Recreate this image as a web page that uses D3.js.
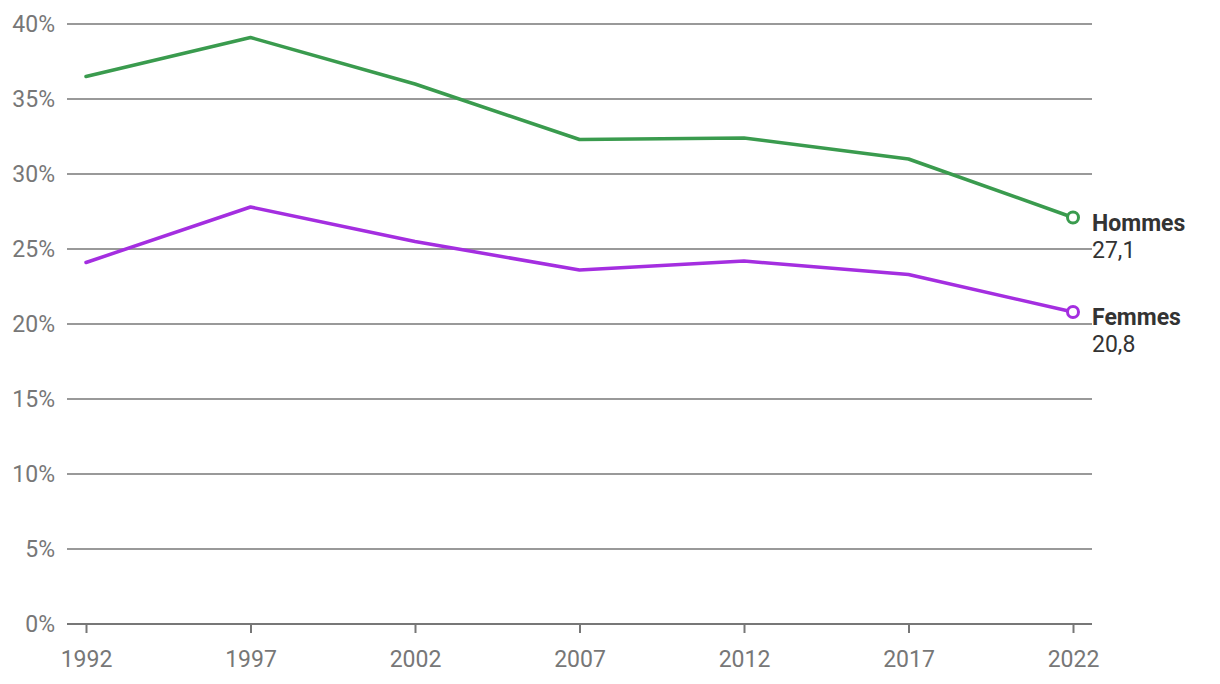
<!DOCTYPE html>
<html><head><meta charset="utf-8">
<script src="https://cdn.jsdelivr.net/npm/d3@7"></script>
<style>body{margin:0;background:#fff}svg{display:block;font-family:Roboto,sans-serif}</style>
</head><body><svg id="c" width="1220" height="684"></svg>
<script>
const years = [1992, 1997, 2002, 2007, 2012, 2017, 2022];
const hommes = [36.5, 39.1, 36.0, 32.3, 32.4, 31.0, 27.1];
const femmes = [24.1, 27.8, 25.5, 23.6, 24.2, 23.3, 20.8];
const yTicks = [0, 5, 10, 15, 20, 25, 30, 35, 40];
const seriesNames = ["Hommes", "Femmes"];
const seriesColors = ["#3a9b4e", "#a42ee0"];
const seriesLabels = ["27,1", "20,8"];

const svg = d3.select("#c");
const x = d3.scalePoint().domain(years).range([86, 1073]);
const y = d3.scaleLinear().domain([0, 40]).range([624, 24]);
const gridX0 = 67, gridX1 = 1092;
const fs = 23;

const g = svg.append("g");
g.selectAll("line.grid").data(yTicks).join("line")
  .attr("x1", gridX0).attr("x2", gridX1)
  .attr("y1", d => y(d)).attr("y2", d => y(d))
  .attr("stroke", "#777").attr("stroke-width", d => d === 0 ? 2 : 1.5);
g.selectAll("text.yl").data(yTicks).join("text")
  .attr("x", 55).attr("y", d => y(d)).attr("dy", "0.35em")
  .attr("text-anchor", "end").attr("fill", "#777").attr("font-size", fs)
  .text(d => d + "%");

const xAxis = svg.append("g").attr("transform", "translate(0,624)")
  .call(d3.axisBottom(x).tickSize(9).tickPadding(18));
xAxis.select(".domain").remove();
xAxis.selectAll("line").attr("stroke", "#777").attr("stroke-width", 2);
xAxis.selectAll("text").attr("fill", "#777").attr("font-size", fs).attr("font-family", "Roboto,sans-serif");

const data = [hommes, femmes];
const line = d3.line().x((d, i) => x(years[i])).y(d => y(d));
data.forEach((vals, k) => {
  svg.append("path").datum(vals).attr("d", line)
    .attr("fill", "none").attr("stroke", seriesColors[k]).attr("stroke-width", 3.5)
    .attr("stroke-linejoin", "round").attr("stroke-linecap", "round");
  const last = vals[vals.length - 1];
  svg.append("circle").attr("cx", x(years[years.length - 1])).attr("cy", y(last)).attr("r", 5.5)
    .attr("fill", "#fff").attr("stroke", seriesColors[k]).attr("stroke-width", 3);
  svg.append("text").attr("x", 1092).attr("y", y(last) + 5).attr("dy", "0.35em")
    .attr("font-size", fs).attr("font-weight", "bold").attr("fill", "#333").text(seriesNames[k]);
  svg.append("text").attr("x", 1092).attr("y", y(last) + 32).attr("dy", "0.35em")
    .attr("font-size", fs).attr("fill", "#333").text(seriesLabels[k]);
});
</script></body></html>
